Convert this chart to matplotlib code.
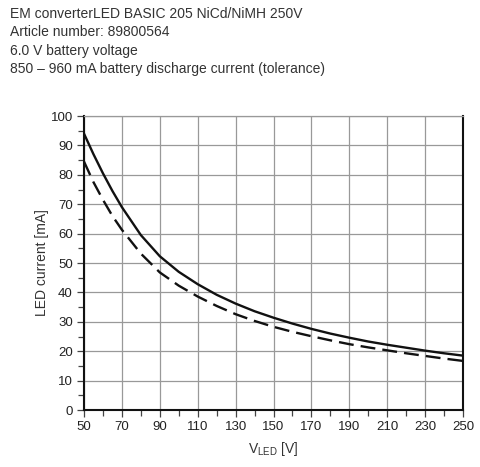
import matplotlib
matplotlib.use("Agg")
import matplotlib.pyplot as plt
from matplotlib.ticker import MultipleLocator

plt.rcParams['font.family'] = ['Liberation Sans', 'DejaVu Sans']
plt.rcParams['mathtext.fontset'] = 'custom'
plt.rcParams['mathtext.rm'] = 'Liberation Sans'

# Daten
v_led = [50, 55, 60, 65, 70, 80, 90, 100, 110, 120, 130, 140, 150,
         160, 170, 180, 190, 200, 210, 220, 230, 240, 250]
i_max = [94.0, 87.0, 80.5, 74.5, 69.0, 59.5, 52.3, 47.0, 42.8, 39.2, 36.2, 33.6, 31.4,
         29.4, 27.6, 26.0, 24.6, 23.3, 22.2, 21.2, 20.2, 19.3, 18.5]
i_min = [84.5, 77.5, 71.5, 66.0, 61.3, 53.2, 46.8, 42.3, 38.6, 35.4, 32.6, 30.3, 28.3,
         26.6, 25.1, 23.7, 22.4, 21.3, 20.3, 19.3, 18.4, 17.5, 16.7]

x_ticks = [50, 70, 90, 110, 130, 150, 170, 190, 210, 230, 250]

header = ["EM converterLED BASIC 205 NiCd/NiMH 250V",
          "Article number: 89800564",
          "6.0 V battery voltage",
          "850 \u2013 960 mA battery discharge current (tolerance)"]

fig = plt.figure(figsize=(4.8, 4.67), dpi=100)
ax = fig.add_axes([0.175, 0.122, 0.7896, 0.6296])

for k, line in enumerate(header):
    fig.text(10 / 480, 1 - (14 + 18.3 * k) / 467, line, fontsize=10,
             color='#333333', va='center', ha='left')

ax.plot(v_led, i_max, color='#111111', lw=1.7, solid_joinstyle='round')
ax.plot(v_led, i_min, color='#111111', lw=1.7, dashes=(6.3, 3.0))

ax.set_xlim(50, 250)
ax.set_ylim(0, 100)
ax.set_xticks(x_ticks)
ax.xaxis.set_minor_locator(MultipleLocator(10))
ax.yaxis.set_major_locator(MultipleLocator(10))
ax.yaxis.set_minor_locator(MultipleLocator(5))

ax.grid(True, which='major', color='#999999', lw=0.9)
ax.set_axisbelow(True)

for side in ['left', 'bottom', 'right']:
    ax.spines[side].set_color('#111111')
    ax.spines[side].set_linewidth(1.5)
ax.spines['top'].set_color('#999999')
ax.spines['top'].set_linewidth(0.9)

ax.tick_params(which='both', direction='out', color='#444444', width=0.9,
               labelsize=9.5, labelcolor='#222222')
ax.tick_params(which='major', length=5, pad=3)
ax.tick_params(which='minor', length=4)

ax.set_xlabel(r'V$_{\mathrm{LED}}$ [V]', fontsize=10, color='#333333', labelpad=5)
ax.set_ylabel('LED current [mA]', fontsize=10, color='#333333', labelpad=1)

plt.savefig('out.png', dpi=100, facecolor='white')
plt.close()
